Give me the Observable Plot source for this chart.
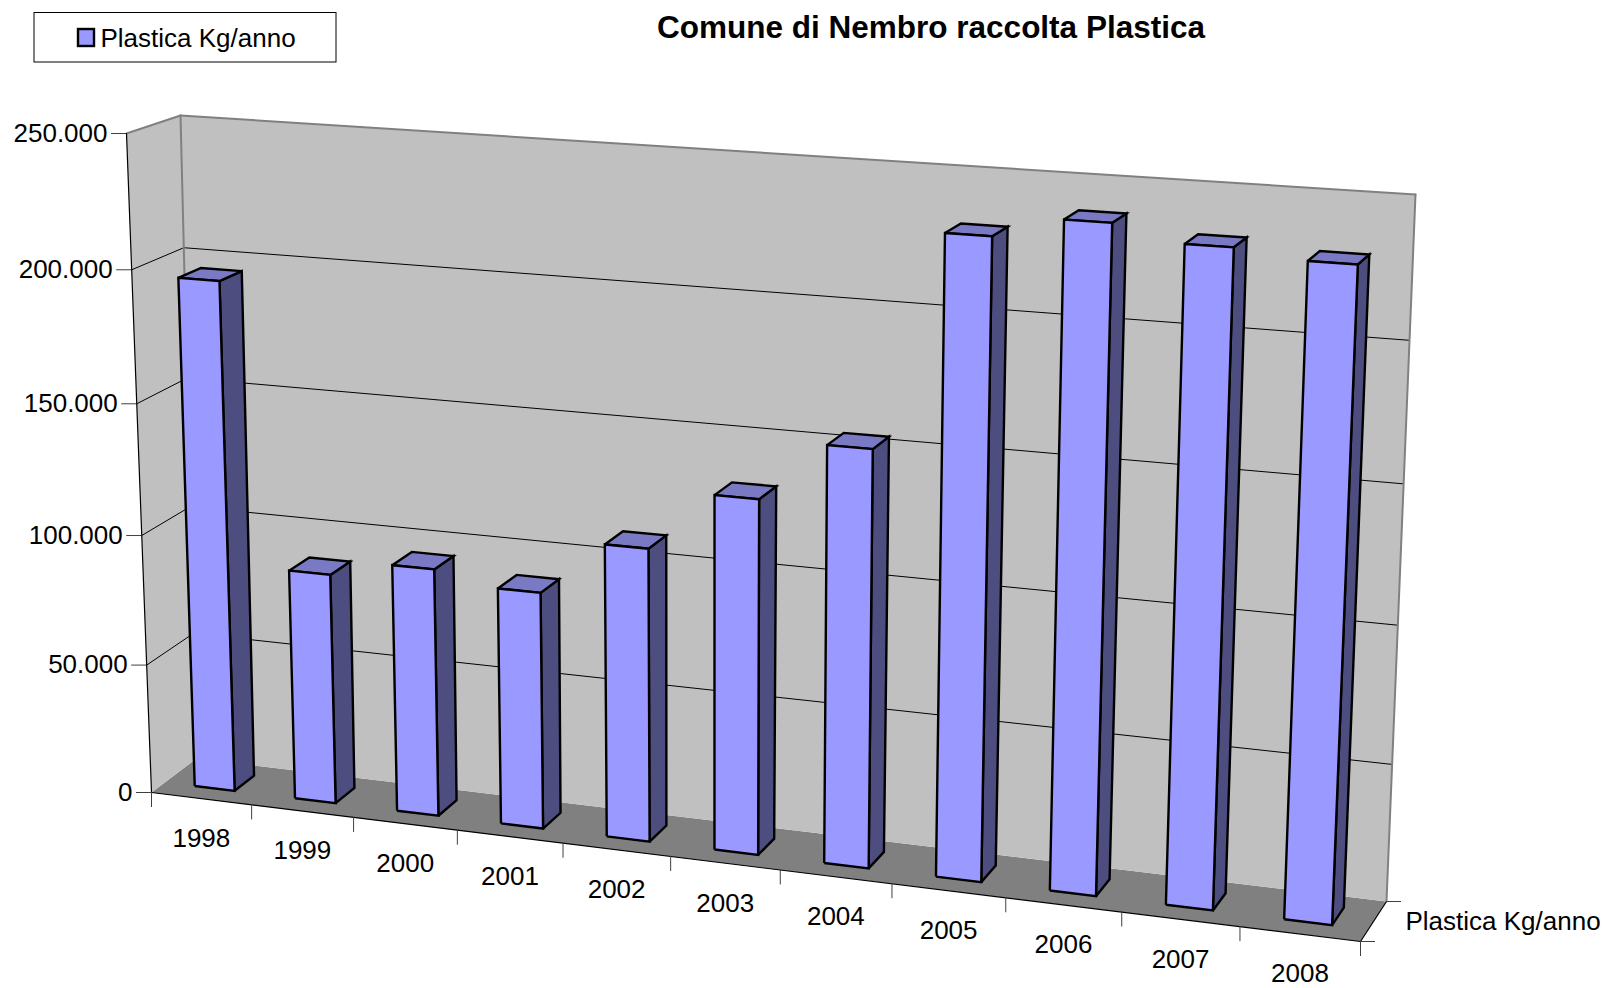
<!DOCTYPE html>
<html><head><meta charset="utf-8">
<script src="https://cdn.jsdelivr.net/npm/d3@7"></script>
<script src="https://cdn.jsdelivr.net/npm/@observablehq/plot@0.6"></script>
<style>html,body{margin:0;padding:0;background:#fff}svg{display:block}</style>
</head><body><div id="chart"></div>
<script>
const categories = ["1998","1999","2000","2001","2002","2003","2004","2005","2006","2007","2008"];
const values = [195400,88300,94400,89650,110100,132050,153800,231700,239100,233600,230700];
const valueTicks = [0,50000,100000,150000,200000,250000];
const seriesName = "Plastica Kg/anno";
const chartTitle = "Comune di Nembro raccolta Plastica";
const maxValue = 250000;

// Perspective camera: corners of the plot box on its front and back planes [BL, BR, TR, TL]
const frontCorners = [[151,792],[1360,941],[1390,215],[126,133]];
const backCorners = [[196,758],[1386,901],[1415,194],[180,115]];
const barU = [0.3,0.7], barW = [0.3,0.74];

function squareToQuad([[x0,y0],[x1,y1],[x2,y2],[x3,y3]]){
  const dx1=x1-x2,dx2=x3-x2,sx=x0-x1+x2-x3,dy1=y1-y2,dy2=y3-y2,sy=y0-y1+y2-y3;
  const d=dx1*dy2-dx2*dy1, g=(sx*dy2-dx2*sy)/d, h=(dx1*sy-sx*dy1)/d;
  const a=x1-x0+g*x1,b=x3-x0+h*x3,c=x0,e=y1-y0+g*y1,f=y3-y0+h*y3,k=y0;
  return (u,v)=>{const q=g*u+h*v+1;return [(a*u+b*v+c)/q,(e*u+f*v+k)/q];};
}
const hFront=squareToQuad(frontCorners), hBack=squareToQuad(backCorners);
function project(u,v,w){const p=hFront(u,v),q=hBack(u,v);return [p[0]+(q[0]-p[0])*w,p[1]+(q[1]-p[1])*w];}
const vOf=d=>d/maxValue, n=categories.length;

let pid=0;
const poly=(pts,fill)=>{const id=pid++;return pts.map(([u,v,w])=>{const [x,y]=project(u,v,w);return {id,x,y,fill};});};
const seg=(a,b)=>{const id=pid++;return [a,b].map(([u,v,w])=>{const [x,y]=project(u,v,w);return {id,x,y};});};
const closed=p=>[...p,p[0]];

const floor=poly(closed([[0,0,0],[1,0,0],[1,0,1],[0,0,1]]),"#808080");
const walls=[...poly(closed([[0,0,0],[0,0,1],[0,1,1],[0,1,0]]),"#c0c0c0"),
             ...poly(closed([[0,0,1],[1,0,1],[1,1,1],[0,1,1]]),"#c0c0c0")];
const gridBack=valueTicks.slice(1,-1).flatMap(t=>seg([0,vOf(t),1],[1,vOf(t),1]));
const gridSide=valueTicks.slice(1,-1).flatMap(t=>seg([0,vOf(t),0],[0,vOf(t),1]));
const wallEdges=[...seg([0,1,0],[0,1,1]),...seg([0,1,1],[1,1,1]),...seg([1,1,1],[1,0,1]),...seg([0,1,1],[0,0,1])];
const axisEdges=[...seg([0,0,0],[0,1,0]),...seg([0,0,0],[1,0,0]),...seg([1,0,0],[1,0,1])];

const bars=values.flatMap((val,i)=>{
  const u0=(i+barU[0])/n,u1=(i+barU[1])/n,[w0,w1]=barW,v=vOf(val);
  return [
    ...poly(closed([[u1,0,w0],[u1,0,w1],[u1,v,w1],[u1,v,w0]]),"#4d4d80"),
    ...poly(closed([[u0,v,w0],[u1,v,w0],[u1,v,w1],[u0,v,w1]]),"#7a7ac4"),
    ...poly(closed([[u0,0,w0],[u1,0,w0],[u1,v,w0],[u0,v,w0]]),"#9999ff")
  ];
});

const at=(u,v,w,extra)=>{const [x,y]=project(u,v,w);return {x,y,...extra};};
const fmt=d3.formatLocale({decimal:",",thousands:".",grouping:[3],currency:["","€"]}).format(",");
const valueTickRows=valueTicks.map(t=>at(0,vOf(t),0,{label:fmt(t)}));
const catTickRows=d3.range(n+1).map(i=>at(i/n,0,0));
const catLabelRows=categories.map((c,i)=>at((i+.5)/n,0,0,{label:c}));
const depthTickRows=[at(1,0,0),at(1,0,1)];
const depthLabel=[at(1,0,.5,{label:seriesName})];

const F="Liberation Sans";
const chart=Plot.plot({
  width:1604,height:988,margin:0,
  style:{background:"#fff",fontFamily:F},
  x:{domain:[0,1604],range:[0,1604],axis:null},
  y:{domain:[0,988],range:[0,988],axis:null},
  marks:[
    Plot.line(floor,{x:"x",y:"y",z:"id",fill:"fill",stroke:"none"}),
    Plot.line(walls,{x:"x",y:"y",z:"id",fill:"fill",stroke:"none"}),
    Plot.line(gridBack,{x:"x",y:"y",z:"id",stroke:"#000",strokeWidth:1}),
    Plot.line(gridSide,{x:"x",y:"y",z:"id",stroke:"#000",strokeWidth:1}),
    Plot.line(wallEdges,{x:"x",y:"y",z:"id",stroke:"#808080",strokeWidth:2}),
    Plot.line(axisEdges,{x:"x",y:"y",z:"id",stroke:"#000",strokeWidth:1.2}),
    Plot.ruleY(valueTickRows,{y:"y",x1:d=>d.x-15,x2:"x",stroke:"#404040",strokeWidth:1}),
    Plot.ruleX(catTickRows,{x:"x",y1:"y",y2:d=>d.y+15,stroke:"#404040",strokeWidth:1}),
    Plot.ruleY(depthTickRows,{y:"y",x1:"x",x2:d=>d.x+15,stroke:"#404040",strokeWidth:1}),
    Plot.line(bars,{x:"x",y:"y",z:"id",fill:"fill",stroke:"#000",strokeWidth:2.4,strokeLinejoin:"miter",strokeMiterlimit:4,strokeLinecap:"butt"}),
    Plot.text(valueTickRows,{x:"x",y:"y",text:"label",textAnchor:"end",dx:-19,fontSize:26,fill:"#000"}),
    Plot.text(catLabelRows,{x:"x",y:"y",text:"label",dy:40,fontSize:26,fill:"#000"}),
    Plot.text(depthLabel,{x:"x",y:"y",text:"label",textAnchor:"start",dx:32,fontSize:26,fill:"#000"}),
    Plot.text([chartTitle],{x:()=>930.5,y:()=>27,text:d=>d,fontSize:31.5,fontWeight:"bold",fill:"#000"}),
    Plot.rect([seriesName],{x1:()=>34,x2:()=>336,y1:()=>12.5,y2:()=>62,fill:"#fff",stroke:"#000",strokeWidth:1}),
    Plot.rect([seriesName],{x1:()=>78,x2:()=>94,y1:()=>29,y2:()=>46,fill:"#9999ff",stroke:"#000",strokeWidth:2.4}),
    Plot.text([seriesName],{x:()=>100,y:()=>38,text:d=>d,textAnchor:"start",fontSize:26,fill:"#000"})
  ]
});
document.getElementById("chart").append(chart);
</script></body></html>
